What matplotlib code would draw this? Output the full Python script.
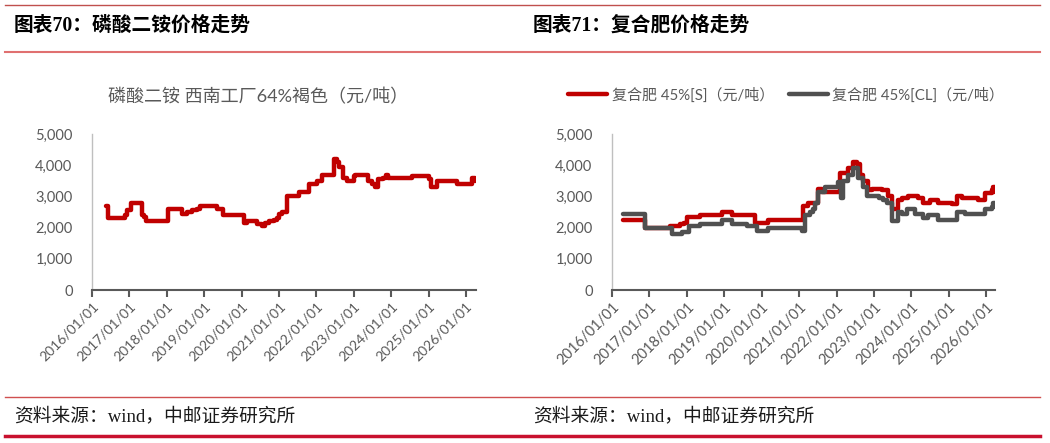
import matplotlib
matplotlib.use("Agg")
import matplotlib.pyplot as plt
import matplotlib.dates as mdates
from matplotlib.lines import Line2D
from matplotlib.ticker import FuncFormatter
import pandas as pd

# data (step points)
dap_dates = ["2016-05-18", "2016-06-01", "2016-11-20", "2016-12-06", "2017-01-18",
             "2017-04-22", "2017-05-01", "2017-05-24", "2017-06-10", "2018-01-12",
             "2018-05-28", "2018-07-15", "2018-09-03", "2018-10-21", "2018-11-24",
             "2019-05-04", "2019-07-07", "2020-01-21", "2020-02-22", "2020-05-28",
             "2020-07-16", "2020-08-18", "2020-09-21", "2020-11-09", "2020-12-12",
             "2021-01-06", "2021-02-01", "2021-03-25", "2021-07-19", "2021-10-25",
             "2022-01-06", "2022-02-24", "2022-06-27", "2022-07-19", "2022-08-15",
             "2022-09-22", "2022-10-25", "2023-01-01", "2023-01-15", "2023-05-24",
             "2023-06-25", "2023-07-28", "2023-08-30", "2023-10-18", "2023-11-13",
             "2023-12-06", "2024-07-21", "2025-01-01", "2025-01-24", "2025-03-21",
             "2025-10-04", "2026-03-06", "2026-04-01"]
dap_vals = [2700, 2300, 2400, 2550, 2800,
            2800, 2400, 2350, 2200, 2600,
            2450, 2500, 2550, 2600, 2700,
            2600, 2400, 2150, 2200, 2100,
            2050, 2150, 2200, 2250, 2300,
            2450, 2500, 3000, 3150, 3400,
            3500, 3700, 4200, 4100, 3950,
            3600, 3500, 3650, 3700, 3500,
            3400, 3300, 3550, 3600, 3680,
            3600, 3650, 3550, 3300, 3500,
            3400, 3600, 3500]

npk_dates = ["2016-04-22", "2016-11-21", "2017-07-21", "2017-10-28", "2017-12-01",
             "2018-01-01", "2018-05-10", "2018-12-09", "2019-03-15", "2019-10-28",
             "2020-03-06", "2021-02-12", "2021-04-01", "2021-07-01", "2021-08-09",
             "2022-02-06", "2022-04-27", "2022-06-15", "2022-07-16", "2022-08-18",
             "2022-09-20", "2022-11-08", "2022-12-10", "2023-03-16", "2023-05-21",
             "2023-06-22", "2023-08-27", "2023-09-28", "2023-12-03", "2024-03-09",
             "2024-04-28", "2024-07-01", "2024-09-21", "2025-01-31", "2025-03-19",
             "2025-05-06", "2025-10-16", "2025-12-21", "2026-02-24", "2026-03-10",
             "2026-03-27"]
npk_s = [2250, 1980, 2050, 2100, 2150,
         2350, 2400, 2500, 2400, 2150,
         2250, 2700, 2800, 3250, 3150,
         3750, 3900, 4100, 4050, 3700,
         3500, 3200, 3250, 3200, 3000,
         2600, 2900, 2950, 3000, 2950,
         2800, 2900, 2800, 2750, 3000,
         2950, 2900, 3100, 3200, 3300,
         3150]

cl_dates = ["2016-04-22", "2016-11-21", "2017-08-07", "2017-11-12", "2018-01-18",
            "2018-05-10", "2018-12-09", "2019-03-15", "2019-08-09", "2019-11-15",
            "2020-03-06", "2021-01-27", "2021-03-01", "2021-04-18", "2021-05-21",
            "2021-06-06", "2021-07-07", "2021-09-12", "2022-01-19", "2022-02-15",
            "2022-03-09", "2022-04-27", "2022-06-15", "2022-08-03", "2022-09-20",
            "2022-10-22", "2023-02-15", "2023-04-03", "2023-05-04", "2023-06-22",
            "2023-08-27", "2023-09-28", "2023-11-18", "2024-02-06", "2024-04-28",
            "2024-06-15", "2024-09-21", "2025-03-19", "2025-06-06", "2025-10-16",
            "2025-12-21", "2026-02-24", "2026-03-10", "2026-03-27"]
npk_cl = [2420, 2000, 1800, 1850, 2050,
          2100, 2250, 2100, 2050, 1900,
          2000, 1900, 2400, 2500, 2600,
          2800, 3150, 3300, 3450, 2950,
          3500, 3700, 3900, 3600, 3300,
          3000, 2950, 2900, 2800, 2200,
          2500, 2450, 2600, 2450, 2300,
          2400, 2250, 2500, 2450, 2450,
          2600, 2650, 2800, 2650]

years = list(range(2016, 2027))
left_title = "磷酸二铵 西南工厂64%褐色（元/吨）"
legend_s = "复合肥 45%[S]（元/吨）"
legend_cl = "复合肥 45%[CL]（元/吨）"

RED = "#C00000"
GREY = "#505050"
TXT = "#595959"
CHART_FONT = ["Lato", "Noto Sans CJK SC", "DejaVu Sans"]
SERIF = ["Liberation Serif", "Noto Sans CJK SC", "DejaVu Sans"]

plt.rcParams['font.family'] = CHART_FONT

fig = plt.figure(figsize=(10.5, 4.43), dpi=100)


def px_y(y):
    return 1 - y / 443.0


def style_axis(ax, xend, xfs):
    ax.set_ylim(0, 5000)
    ax.set_yticks(range(0, 5001, 1000))
    ax.yaxis.set_major_formatter(FuncFormatter(lambda v, p: "{:,.0f}".format(v)))
    ax.set_xlim(pd.Timestamp("2016-01-01"), pd.Timestamp(xend))
    ax.set_xticks([pd.Timestamp("%d-01-01" % y) for y in years])
    ax.xaxis.set_major_formatter(mdates.DateFormatter("%Y/%m/%d"))
    for s in ["top", "right"]:
        ax.spines[s].set_visible(False)
    ax.spines["left"].set_color("#BFBFBF")
    ax.spines["left"].set_linewidth(1.0)
    ax.spines["bottom"].set_color("#595959")
    ax.spines["bottom"].set_linewidth(1.5)
    ax.tick_params(axis="y", length=0, labelsize=10.5, labelcolor=TXT, pad=14)
    ax.tick_params(axis="x", length=5, width=1.5, color="#595959", direction="out",
                   labelsize=xfs, labelcolor=TXT, pad=2)
    for lab in ax.get_xticklabels():
        lab.set_rotation(45)
        lab.set_ha("right")
        lab.set_rotation_mode("anchor")


# left panel
ax1 = fig.add_axes([92 / 1050, px_y(290), 384 / 1050, 156 / 443])
ax1.plot(pd.to_datetime(dap_dates), dap_vals, color=RED, lw=3.2,
         drawstyle="steps-post", solid_capstyle="round")
style_axis(ax1, "2026-04-10", 10)
fig.text(258 / 1050, px_y(97), left_title, ha="center", va="center",
         fontsize=13, color=TXT)

# right panel
ax2 = fig.add_axes([612 / 1050, px_y(290), 383 / 1050, 156 / 443])
ax2.plot(pd.to_datetime(npk_dates), npk_s, color=RED, lw=3.2,
         drawstyle="steps-post", label=legend_s, solid_capstyle="round")
ax2.plot(pd.to_datetime(cl_dates), npk_cl, color=GREY, lw=3.2,
         drawstyle="steps-post", label=legend_cl, solid_capstyle="round")
style_axis(ax2, "2026-03-28", 10.5)
leg = ax2.legend(loc="center", bbox_to_anchor=(0.455, 1.25), ncol=2, frameon=False,
                 fontsize=10.8, handlelength=2.6, handletextpad=0.3,
                 columnspacing=1.0, borderaxespad=0)
for t in leg.get_texts():
    t.set_color(TXT)

# header / footer rules, continuous across both panels
x0, x1 = 5 / 1050, 1040 / 1050
fig.add_artist(Line2D([x0, x1], [px_y(5)] * 2, color="#C0504D", lw=1.0))
fig.add_artist(Line2D([x0, x1], [px_y(52)] * 2, color="#E07070", lw=1.5))
fig.add_artist(Line2D([x0, x1], [px_y(397)] * 2, color="#D05050", lw=1.0))
fig.add_artist(Line2D([x0, x1], [px_y(436)] * 2, color="#C8102E", lw=2.5))

for tx, title in [(14, "图表70：磷酸二铵价格走势"), (533, "图表71：复合肥价格走势")]:
    fig.text(tx / 1050, px_y(26), title, ha="left", va="center", fontsize=14.2,
             fontweight="bold", family=SERIF, color="#000000")
    fig.text(tx / 1050, px_y(416), "资料来源：wind，中邮证券研究所", ha="left",
             va="center", fontsize=13.5, family=SERIF, color="#1a1a1a")

fig.savefig("out.png", dpi=100)
